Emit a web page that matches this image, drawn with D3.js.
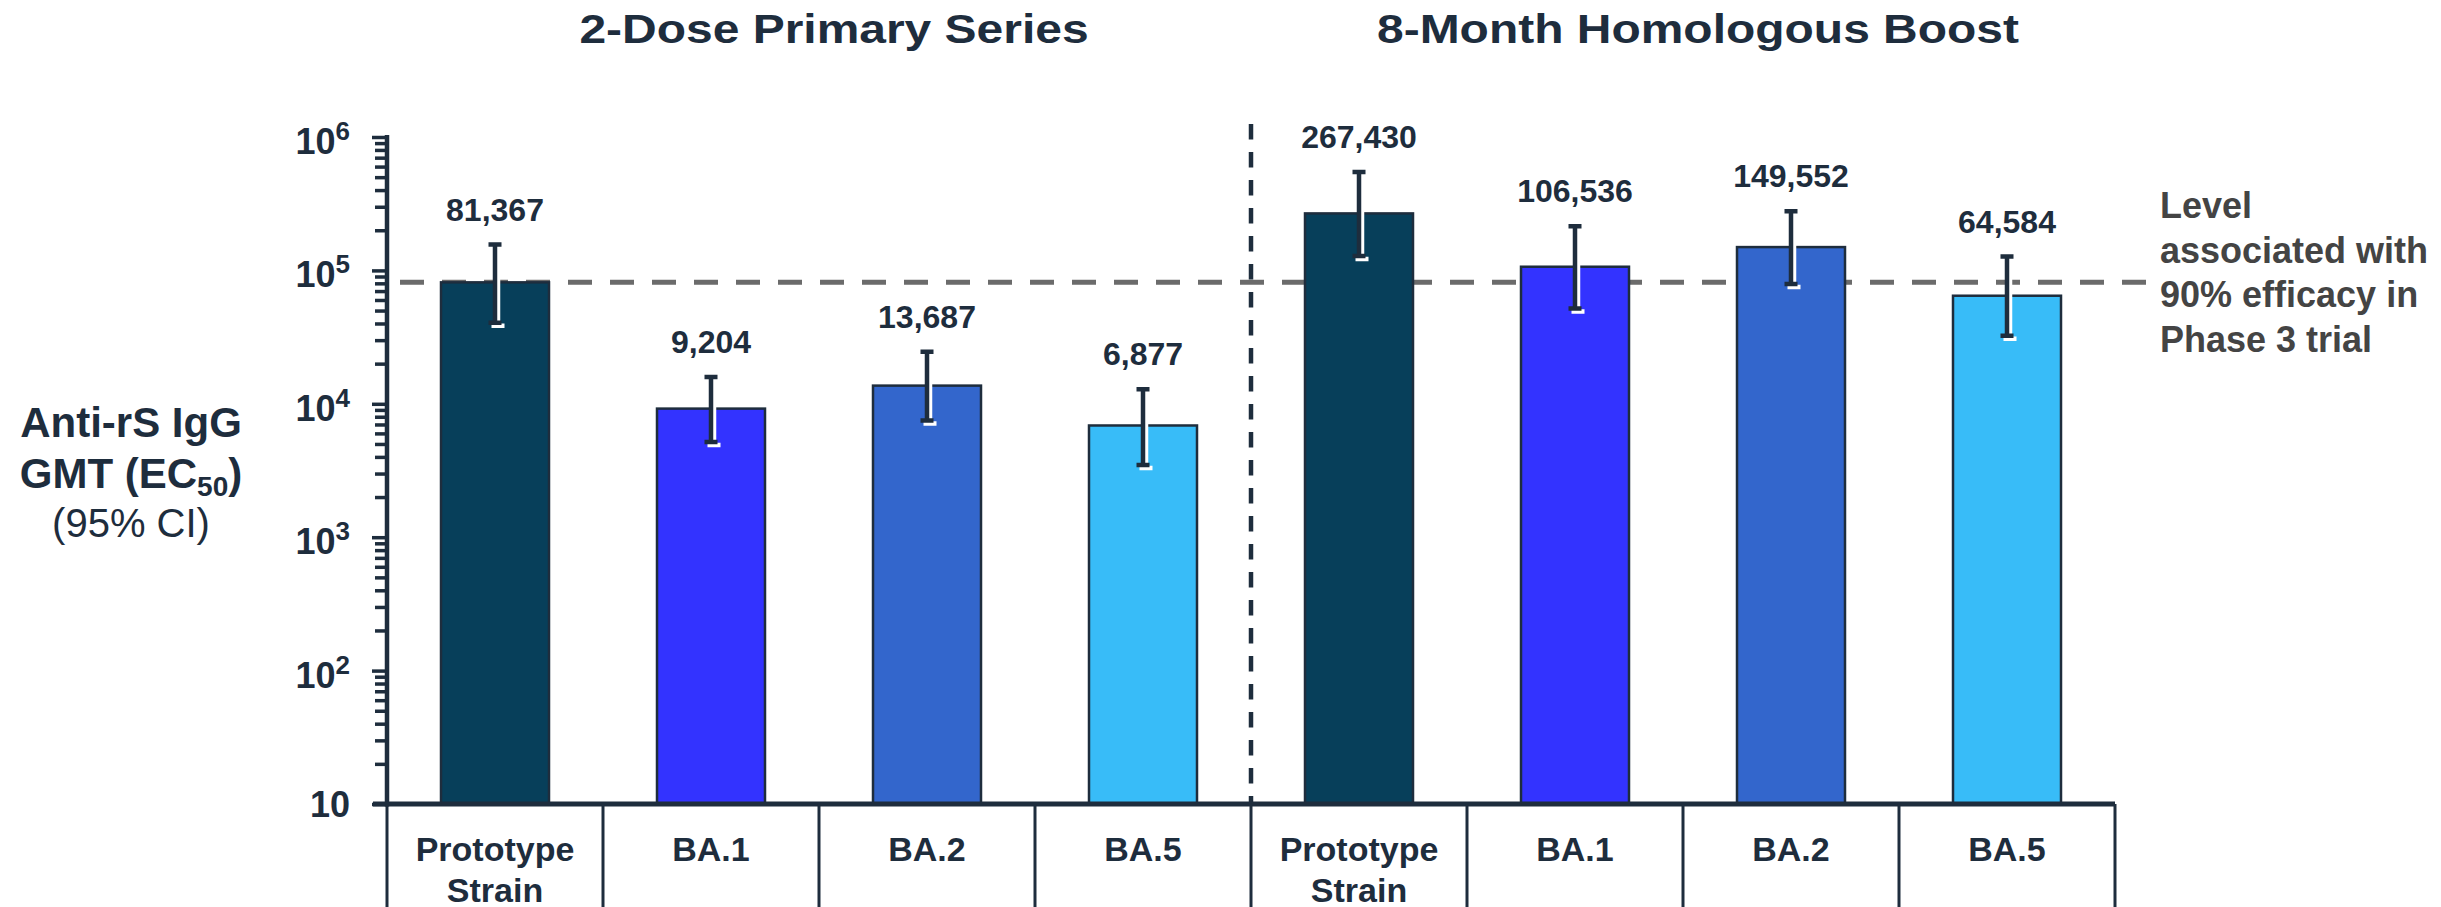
<!DOCTYPE html>
<html>
<head>
<meta charset="utf-8">
<script src="https://cdn.jsdelivr.net/npm/d3@7"></script>
<style>
  html, body { margin: 0; padding: 0; background: #ffffff; }
  svg { display: block; }
  text { font-family: "Liberation Sans", Arial, Helvetica, sans-serif; }
</style>
</head>
<body>
<svg id="chart" width="2441" height="907"></svg>
<script>
// ---- data ----
const groups = ["2-Dose Primary Series", "8-Month Homologous Boost"];
const strains = ["Prototype Strain", "BA.1", "BA.2", "BA.5"];
const gmt2Dose = [81367, 9204, 13687, 6877];
const gmtBoost = [267430, 106536, 149552, 64584];
const ciLow2Dose = [40550, 5170, 7500, 3480];
const ciHigh2Dose = [156100, 15900, 24600, 12850];
const ciLowBoost = [128200, 51900, 79200, 32400];
const ciHighBoost = [546600, 214100, 278000, 127100];
const efficacyLevel = 81367;
const efficacyNote = ["Level", "associated with", "90% efficacy in", "Phase 3 trial"];
const yTickExponents = [1, 2, 3, 4, 5, 6];
const strainColors = ["#073f5a", "#3333ff", "#3366cc", "#38bcf8"];

// ---- derived rows ----
const gmtByGroup = [gmt2Dose, gmtBoost];
const lowByGroup = [ciLow2Dose, ciLowBoost];
const highByGroup = [ciHigh2Dose, ciHighBoost];
const rows = [];
groups.forEach((g, gi) => {
  strains.forEach((s, si) => {
    rows.push({
      idx: rows.length, group: gi, strain: s, si: si,
      value: gmtByGroup[gi][si], lo: lowByGroup[gi][si], hi: highByGroup[gi][si]
    });
  });
});

// ---- layout ----
const ink = "#1e2d3d";
const X0 = 387, X1 = 2115, YBOT = 804, YTOP = 137, H = 907;

const svg = d3.select("#chart");

const x = d3.scaleBand()
  .domain(rows.map(d => d.idx))
  .range([X0, X1])
  .paddingInner(0.5)
  .paddingOuter(0.25);
const step = x.step();
const bw = x.bandwidth();
const cx = i => x(i) + bw / 2;

const y = d3.scaleLog().domain([10, 1e6]).range([YBOT, YTOP]);

// reference level (behind bars)
svg.append("line")
  .attr("x1", 400).attr("x2", 2146)
  .attr("y1", y(efficacyLevel)).attr("y2", y(efficacyLevel))
  .attr("stroke", "#6b6b6b").attr("stroke-width", 5)
  .attr("stroke-dasharray", "24,18");

// group divider
const dividerX = X0 + 4 * step;
svg.append("line")
  .attr("x1", dividerX).attr("x2", dividerX)
  .attr("y1", 124).attr("y2", YBOT)
  .attr("stroke", ink).attr("stroke-width", 4.5)
  .attr("stroke-dasharray", "15.5,12.5");

// bars
svg.append("g").selectAll("rect")
  .data(rows).join("rect")
  .attr("x", d => x(d.idx))
  .attr("y", d => y(d.value))
  .attr("width", bw)
  .attr("height", d => YBOT - y(d.value))
  .attr("fill", d => strainColors[d.si])
  .attr("stroke", ink).attr("stroke-width", 2.5);

// error bars: white shadow then dark bar
const capHalf = 6.5;
const errPath = d => {
  const c = cx(d.idx), t = y(d.hi), b = y(d.lo);
  return `M${c - capHalf},${t}H${c + capHalf}M${c},${t}V${b}M${c - capHalf},${b}H${c + capHalf}`;
};
svg.append("g").attr("transform", "translate(3,3)")
  .selectAll("path").data(rows).join("path")
  .attr("d", errPath).attr("fill", "none")
  .attr("stroke", "#ffffff").attr("stroke-width", 4.5);
svg.append("g")
  .selectAll("path").data(rows).join("path")
  .attr("d", errPath).attr("fill", "none")
  .attr("stroke", ink).attr("stroke-width", 4.5);

// value labels
const fmt = d3.format(",");
svg.append("g").selectAll("text")
  .data(rows).join("text")
  .attr("x", d => cx(d.idx))
  .attr("y", d => y(d.hi) - 24)
  .attr("text-anchor", "middle")
  .attr("font-size", 32).attr("font-weight", "bold")
  .attr("fill", ink)
  .text(d => fmt(d.value));

// y axis with log minor ticks
const majorTicks = yTickExponents.map(e => Math.pow(10, e));
const minorTicks = [];
yTickExponents.slice(0, -1).forEach(e => {
  for (let m = 2; m <= 9; m++) minorTicks.push(m * Math.pow(10, e));
});
const yAxis = svg.append("g")
  .attr("transform", `translate(${X0},0)`)
  .call(d3.axisLeft(y).tickValues(majorTicks.concat(minorTicks))
    .tickSizeInner(12).tickSizeOuter(0).tickFormat(""));
yAxis.select(".domain").remove();
yAxis.selectAll(".tick line")
  .attr("stroke", ink).attr("stroke-width", 3.5)
  .attr("x2", d => majorTicks.includes(d) ? -15 : -12);
svg.append("line")
  .attr("x1", X0).attr("x2", X0)
  .attr("y1", YTOP - 2).attr("y2", YBOT + 2.5)
  .attr("stroke", ink).attr("stroke-width", 4.5);

// y tick labels (10, 10², ...)
yTickExponents.forEach(e => {
  const ty = y(Math.pow(10, e));
  const t = svg.append("text")
    .attr("x", 350).attr("text-anchor", "end")
    .attr("font-weight", "bold").attr("fill", ink);
  if (e === 1) {
    t.attr("y", ty + 13).attr("font-size", 36).text("10");
  } else {
    t.attr("y", ty + 17).attr("font-size", 36);
    t.append("tspan").text("10");
    t.append("tspan").attr("font-size", 26).attr("dy", -14).text(String(e));
  }
});

// x axis line
svg.append("line")
  .attr("x1", 373).attr("x2", X1)
  .attr("y1", YBOT).attr("y2", YBOT)
  .attr("stroke", ink).attr("stroke-width", 5);

// category separators below the axis
d3.range(rows.length + 1).forEach(k => {
  const sx = X0 + k * step;
  svg.append("line")
    .attr("x1", sx).attr("x2", sx)
    .attr("y1", YBOT).attr("y2", H)
    .attr("stroke", ink).attr("stroke-width", 3);
});

// category labels
const catG = svg.append("g");
rows.forEach(d => {
  const lines = d.strain.startsWith("Prototype") ? d.strain.split(" ") : [d.strain];
  lines.forEach((ln, li) => {
    catG.append("text")
      .attr("x", cx(d.idx)).attr("y", 861 + li * 41)
      .attr("text-anchor", "middle")
      .attr("font-size", 34).attr("font-weight", "bold")
      .attr("fill", ink).text(ln);
  });
});

// group titles
groups.forEach((g, gi) => {
  const gx = X0 + (gi * 4 + 2) * step + 15;
  svg.append("text")
    .attr("transform", `translate(${gx},43) scale(1.17,1)`)
    .attr("text-anchor", "middle")
    .attr("font-size", 41).attr("font-weight", "bold")
    .attr("fill", ink).text(g);
});

// y axis title
const yt = svg.append("g").attr("fill", ink);
yt.append("text").attr("x", 131).attr("y", 437)
  .attr("text-anchor", "middle").attr("font-size", 42).attr("font-weight", "bold")
  .text("Anti-rS IgG");
const gmtLine = yt.append("text").attr("x", 131).attr("y", 488)
  .attr("text-anchor", "middle").attr("font-size", 42).attr("font-weight", "bold");
gmtLine.append("tspan").text("GMT (EC");
gmtLine.append("tspan").attr("font-size", 28).attr("dy", 8).text("50");
gmtLine.append("tspan").attr("dy", -8).text(")");
yt.append("text").attr("x", 131).attr("y", 537)
  .attr("text-anchor", "middle").attr("font-size", 40)
  .text("(95% CI)");

// efficacy note
efficacyNote.forEach((ln, i) => {
  svg.append("text")
    .attr("x", 2160).attr("y", 218 + i * 44.7)
    .attr("font-size", 36).attr("font-weight", "bold")
    .attr("fill", "#444444").text(ln);
});
</script>
</body>
</html>
